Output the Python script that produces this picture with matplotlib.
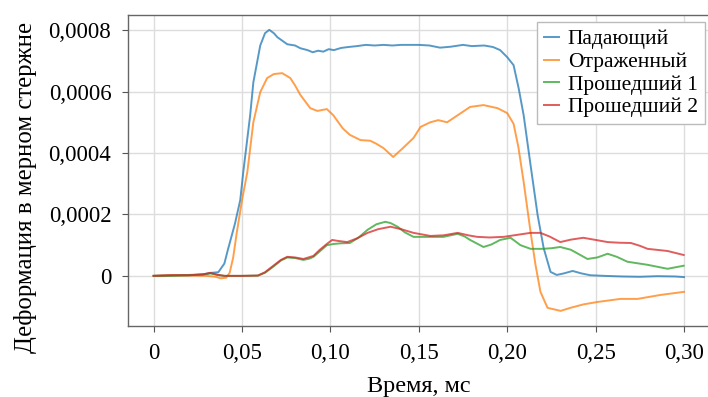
import matplotlib
matplotlib.use("Agg")
import matplotlib.pyplot as plt

# падающий импульс
t_inc = [0, 0.01, 0.02, 0.028, 0.033, 0.0366, 0.040, 0.042, 0.046, 0.049, 0.0507,
         0.0546, 0.0564, 0.0603, 0.063, 0.0654, 0.068, 0.070, 0.0756, 0.080, 0.083,
         0.087, 0.090, 0.093, 0.096, 0.099, 0.102, 0.106, 0.110, 0.115, 0.120, 0.125,
         0.130, 0.135, 0.140, 0.150, 0.156, 0.162, 0.168, 0.175, 0.180, 0.187, 0.192,
         0.196, 0.200, 0.2036, 0.2065, 0.2093, 0.2132, 0.2172, 0.2206, 0.2245, 0.228,
         0.232, 0.237, 0.242, 0.247, 0.255, 0.265, 0.275, 0.285, 0.295, 0.30]
eps_inc = [0, 0.000002, 0.000003, 0.000005, 0.000010, 0.000012, 0.00004, 0.000085,
           0.00017, 0.000247, 0.000338, 0.000523, 0.00063, 0.00075, 0.00079, 0.000801,
           0.00079, 0.000777, 0.000754, 0.00075, 0.000741, 0.000735, 0.000728, 0.000733,
           0.00073, 0.000738, 0.000735, 0.000742, 0.000745, 0.000748, 0.000752, 0.00075,
           0.000752, 0.00075, 0.000752, 0.000752, 0.00075, 0.000743, 0.000746, 0.000752,
           0.000748, 0.00075, 0.000745, 0.000735, 0.000712, 0.000686, 0.00061, 0.000523,
           0.000361, 0.000198, 0.000091, 0.000013, 0.000003, 0.000008, 0.000016,
           0.000008, 0.000002, 0.0, -0.000002, -0.000003, -0.000001, -0.000002, -0.000004]

# отраженный импульс
t_ref = [0, 0.01, 0.02, 0.03, 0.035, 0.038, 0.041, 0.043, 0.045, 0.047, 0.050, 0.053,
         0.0564, 0.0603, 0.0642, 0.068, 0.0727, 0.0773, 0.080, 0.083, 0.0886, 0.0926,
         0.098, 0.1016, 0.107, 0.111, 0.117, 0.1225, 0.126, 0.130, 0.1355, 0.141, 0.147,
         0.151, 0.1565, 0.161, 0.166, 0.172, 0.179, 0.1866, 0.1945, 0.200, 0.2036,
         0.2063, 0.2093, 0.2132, 0.216, 0.2188, 0.2228, 0.2302, 0.2358, 0.243, 0.251,
         0.264, 0.2737, 0.2868, 0.30]
eps_ref = [0, 0.000002, 0.000001, 0.0, -0.000003, -0.000008, -0.000006, 0.00001,
           0.00006, 0.00014, 0.000247, 0.000338, 0.0005, 0.000598, 0.000644, 0.000657,
           0.00066, 0.000644, 0.00062, 0.000589, 0.000546, 0.000537, 0.000543, 0.000523,
           0.00048, 0.000459, 0.000442, 0.00044, 0.00043, 0.000416, 0.000387, 0.000416,
           0.000449, 0.000485, 0.0005, 0.000507, 0.0005, 0.000523, 0.00055, 0.000556,
           0.000546, 0.00053, 0.000495, 0.00042, 0.000306, 0.000143, 0.000036, -0.000052,
           -0.000104, -0.000114, -0.000104, -0.000093, -0.000085, -0.000075, -0.000075,
           -0.000062, -0.000052]

# прошедший импульс, датчик 1
t_tr1 = [0, 0.01, 0.02, 0.028, 0.032, 0.036, 0.040, 0.050, 0.059, 0.063, 0.0677, 0.072,
         0.0756, 0.080, 0.0847, 0.088, 0.0904, 0.094, 0.098, 0.102, 0.106, 0.111, 0.116,
         0.121, 0.126, 0.131, 0.134, 0.138, 0.142, 0.147, 0.1565, 0.164, 0.172, 0.176,
         0.179, 0.1866, 0.191, 0.196, 0.2019, 0.2075, 0.2132, 0.220, 0.225, 0.230, 0.236,
         0.2454, 0.251, 0.2568, 0.262, 0.268, 0.2794, 0.2907, 0.2998]
eps_tr1 = [0, 0.0, 0.000002, 0.000004, 0.000008, 0.000003, 0.0, 0.0, 0.000001, 0.00001,
           0.00003, 0.00005, 0.00006, 0.000058, 0.000052, 0.000056, 0.000062, 0.00008,
           0.0001, 0.000104, 0.000106, 0.000107, 0.000125, 0.00015, 0.000168, 0.000176,
           0.000172, 0.00016, 0.000142, 0.000127, 0.000127, 0.000127, 0.000137, 0.000128,
           0.000117, 0.000094, 0.000102, 0.000117, 0.000124, 0.0001, 0.000088, 0.000088,
           0.00009, 0.000094, 0.000085, 0.000055, 0.00006, 0.000072, 0.000062, 0.000046,
           0.000036, 0.000023, 0.000033]

# прошедший импульс, датчик 2
t_tr2 = [0, 0.01, 0.02, 0.028, 0.032, 0.036, 0.040, 0.050, 0.059, 0.063, 0.0677, 0.072,
         0.0756, 0.080, 0.0847, 0.0904, 0.094, 0.098, 0.101, 0.104, 0.1095, 0.115, 0.121,
         0.127, 0.134, 0.140, 0.147, 0.1565, 0.164, 0.172, 0.178, 0.183, 0.190, 0.198,
         0.205, 0.2132, 0.2188, 0.224, 0.230, 0.236, 0.243, 0.250, 0.2568, 0.263, 0.270,
         0.275, 0.2794, 0.2907, 0.2998]
eps_tr2 = [0, 0.000002, 0.000002, 0.000005, 0.00001, 0.000004, 0.0, 0.0, 0.000001,
           0.000012, 0.000033, 0.000052, 0.000062, 0.00006, 0.000055, 0.000065, 0.000085,
           0.000104, 0.000117, 0.000114, 0.00011, 0.000122, 0.00014, 0.000152, 0.00016,
           0.000152, 0.00014, 0.00013, 0.000132, 0.00014, 0.000132, 0.000127, 0.000125,
           0.000127, 0.000133, 0.00014, 0.00014, 0.000128, 0.00011, 0.000118, 0.000124,
           0.000117, 0.00011, 0.000108, 0.000107, 0.000098, 0.000088, 0.000081, 0.000068]

labels = ["Падающий", "Отраженный", "Прошедший 1", "Прошедший 2"]
x_ticks = [0, 0.05, 0.10, 0.15, 0.20, 0.25, 0.30]
x_ticklabels = ["0", "0,05", "0,10", "0,15", "0,20", "0,25", "0,30"]
y_ticks = [0, 0.0002, 0.0004, 0.0006, 0.0008]
y_ticklabels = ["0", "0,0002", "0,0004", "0,0006", "0,0008"]

plt.rcParams["font.family"] = ["Liberation Serif", "DejaVu Serif"]

fig = plt.figure(figsize=(7.08, 3.97), dpi=100)
ax = fig.add_axes([0.1808, 0.179, 0.8215, 0.783])

series = [(t_inc, eps_inc), (t_ref, eps_ref), (t_tr1, eps_tr1), (t_tr2, eps_tr2)]
colors = ["#1f77b4", "#ff7f0e", "#2ca02c", "#d62728"]
for (t, e), c, lab in zip(series, colors, labels):
    ax.plot(t, e, color=c, lw=1.4, alpha=0.75, label=lab)

ax.set_xlim(-0.0145, 0.3145)
ax.set_ylim(-0.000163, 0.000849)
ax.set_xticks(x_ticks)
ax.set_xticklabels(x_ticklabels)
ax.set_yticks(y_ticks)
ax.set_yticklabels(y_ticklabels)
ax.tick_params(labelsize=16.5, length=4, color="#555555", pad=8)
ax.grid(True, color="#dddddd", lw=1)
ax.set_axisbelow(True)
for s in ax.spines.values():
    s.set_color("#666666")
    s.set_linewidth(1.0)

ax.set_xlabel("Время, мс", fontsize=17.5, labelpad=9)
ax.set_ylabel("Деформация в мерном стержне", fontsize=17.8)
ax.yaxis.set_label_coords(-0.157, 0.444)

leg = ax.legend(loc="upper right", bbox_to_anchor=(0.992, 0.977), borderaxespad=0,
                fontsize=15.5, fancybox=False, edgecolor="#bbbbbb", framealpha=1,
                handlelength=0.7, handletextpad=0.42, labelspacing=0.12, borderpad=0.33)
leg.get_frame().set_linewidth(1.0)

fig.savefig("out.png", dpi=100)
